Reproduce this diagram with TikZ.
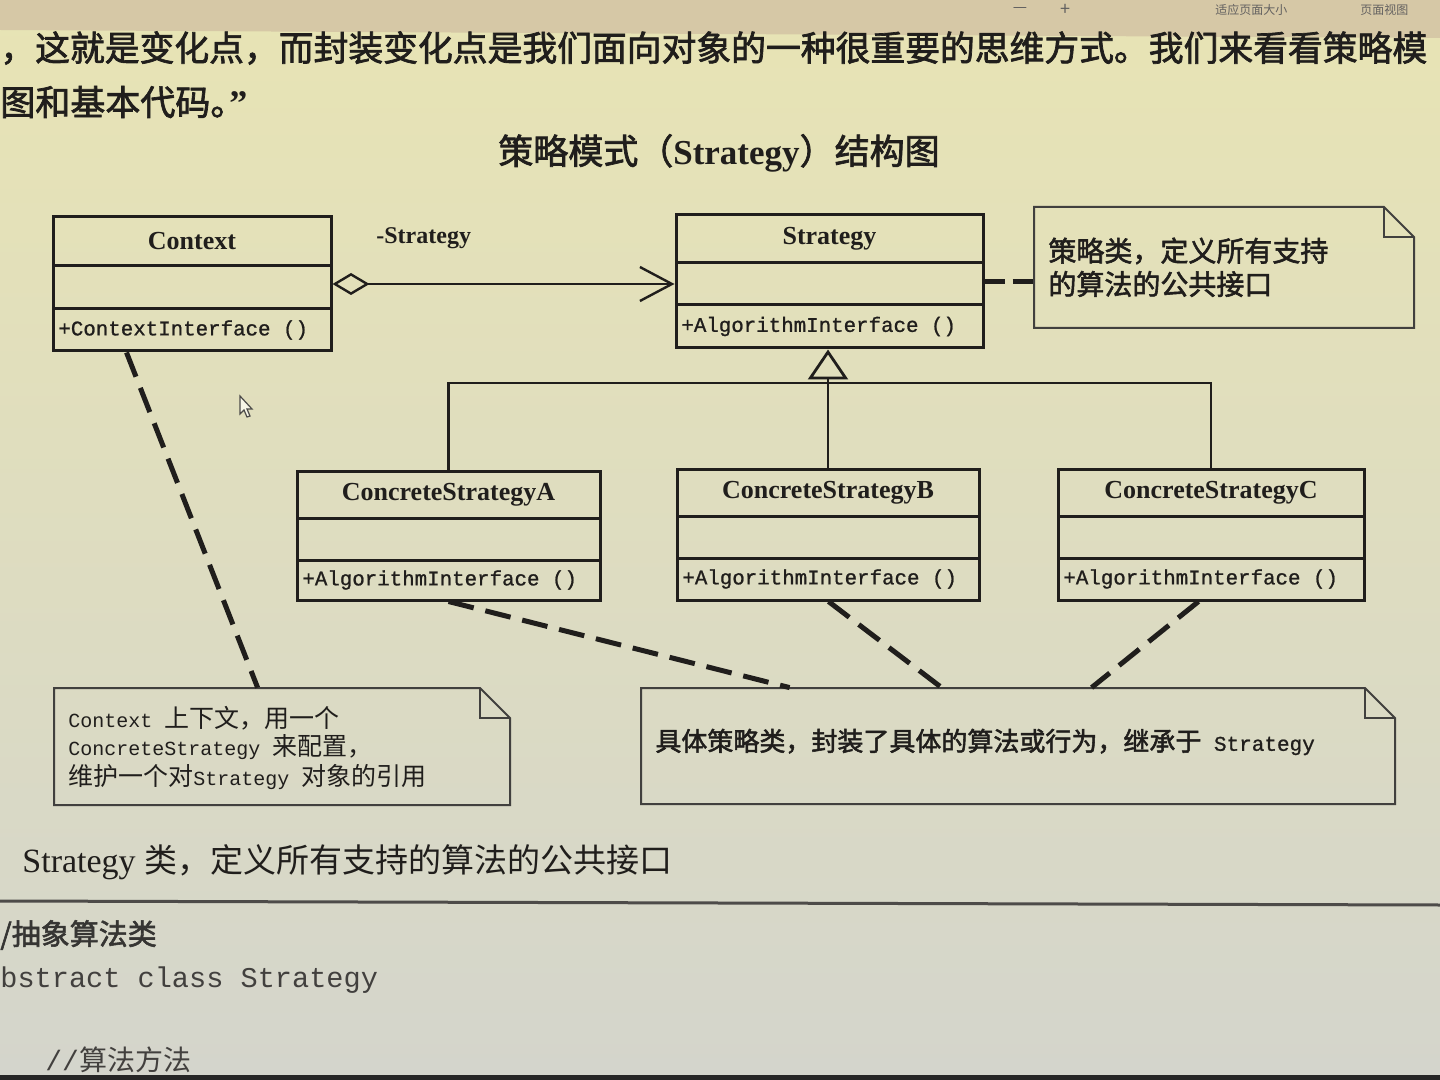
\documentclass[tikz,border=0pt]{standalone}
\usepackage{fontspec}
\setmainfont{Liberation Serif}
\setmonofont{Liberation Mono}
\newfontfamily\cjk{Noto Sans CJK SC}
\newfontfamily\cjkb[FakeBold=2]{Noto Sans CJK SC}
\newfontfamily\monob[FakeBold=1]{Liberation Mono}
\usetikzlibrary{arrows.meta,fit,calc}
\definecolor{ink}{RGB}{32,30,28}
\definecolor{papertop}{RGB}{232,228,180}
\definecolor{papermid}{RGB}{236,233,196}
\definecolor{paperbot}{RGB}{212,213,204}
\definecolor{bezel}{RGB}{214,200,166}
\tikzset{
 box/.style={draw=ink, line width=1.5pt, inner sep=0pt},
 rule/.style={draw=ink, line width=1.5pt},
 notebox/.style={draw=ink!85, line width=1pt, line join=miter},
 dashconn/.style={draw=ink, line width=2.5pt, dash pattern=on 13pt off 6pt},
 clsname/.style={font=\rmfamily\bfseries\fontsize{13pt}{15pt}\selectfont, text=ink, inner sep=0pt},
 meth/.style={font=\monob\fontsize{10.4pt}{12pt}\selectfont, text=ink, inner sep=0pt, anchor=west},
 notetext/.style={text=ink, inner sep=0pt, anchor=west},
 tbtext/.style={inner sep=0pt, text=ink!70, font=\cjk\fontsize{6pt}{7pt}\selectfont},
}
\newcommand{\umlcls}[9]{%
 \node[box, fit={(#2,#3)(#4,#5)}] (#1) {};
 \draw[rule] (#2,#6) -- (#4,#6);
 \draw[rule] (#2,#7) -- (#4,#7);
 \node[clsname] (#1-name) at ({(#2+#4)/2},{(#3+#6)/2}) {#8};
 \node[meth] (#1-meth) at ({#2+5},{(#7+#5)/2}) {#9};
}
\newcommand{\umlnote}[5]{%
 \draw[notebox] (#2,#3) -- ({#4-30},#3) -- (#4,{#3+30}) -- (#4,#5) -- (#2,#5) -- cycle;
 \draw[notebox] ({#4-30},#3) -- ({#4-30},{#3+30}) -- (#4,{#3+30});
 \node[fit={(#2,#3)(#4,#5)}, inner sep=0pt] (#1) {};
}
\begin{document}
\begin{tikzpicture}[x=0.5pt,y=-0.5pt]
\useasboundingbox (0,0) rectangle (1440,1080);
\clip (0,0) rectangle (1440,1080);
% background
\shade[top color=papertop, middle color=papermid, bottom color=paperbot] (0,0) rectangle (1440,1080);
\fill[bezel] (0,0) -- (1440,0) -- (1440,38) -- (0,30) -- cycle;
\fill[black!85] (0,1075) rectangle (1440,1080);
% toolbar
\node[tbtext, font=\cjk\fontsize{8pt}{9pt}\selectfont] (tb1) at (1020,10) {—};
\node[tbtext, font=\cjk\fontsize{9pt}{9pt}\selectfont] (tb2) at (1065,10) {+};
\node[tbtext, anchor=west] (tb3) at (1215,10) {适应页面大小};
\node[tbtext, anchor=west] (tb4) at (1360,10) {页面视图};
% page text
\node[inner sep=0pt, anchor=west, text=ink, font=\cjkb\fontsize{17.4pt}{20pt}\selectfont] (l1) at (0,48) {，这就是变化点，而封装变化点是我们面向对象的一种很重要的思维方式。我们来看看策略模};
\node[inner sep=0pt, anchor=west, text=ink, font=\cjkb\fontsize{17.5pt}{20pt}\selectfont] (l2) at (0,102) {图和基本代码。{\rmfamily\bfseries\fontsize{18pt}{20pt}\selectfont\kern-8pt ”}};
\node[inner sep=0pt, text=ink, font=\cjkb\fontsize{17.5pt}{20pt}\selectfont] (title) at (719,153) {策略模式（{\rmfamily\bfseries Strategy}）结构图};
% classes
\umlcls{ctx}{53}{217}{331}{351}{266}{309}{Context}{+ContextInterface ()}
\umlcls{st}{676}{215}{983}{348}{263}{305}{Strategy}{+AlgorithmInterface ()}
\umlcls{ca}{297}{471}{600}{600}{518}{560}{ConcreteStrategyA}{+AlgorithmInterface ()}
\umlcls{cb}{677}{469}{979}{600}{516}{558}{ConcreteStrategyB}{+AlgorithmInterface ()}
\umlcls{cc}{1058}{469}{1364}{600}{516}{558}{ConcreteStrategyC}{+AlgorithmInterface ()}
% association
\draw[draw=ink, line width=1.2pt, {Diamond[open,length=18.5pt,width=11pt,line width=1.2pt]}-{Straight Barb[length=16pt,width=17pt,line width=1.2pt]}] (ctx.east) -- (ctx.east -| st.west);
\node[inner sep=0pt, anchor=west, text=ink, font=\rmfamily\bfseries\fontsize{12pt}{14pt}\selectfont] (role) at (376,238) {-Strategy};
% generalization
\draw[rule, line width=1.4pt] (ca.north) -- (ca.north |- 0,383) -- (cc.north |- 0,383) -- (cc.north);
\draw[rule, line width=1.4pt, -{Triangle[open,length=15pt,width=20pt,line width=1.4pt]}] (cb.north) -- (cb.north |- st.south);
% notes
\umlnote{n1}{1034}{207}{1414}{328}
\umlnote{n2}{54}{688}{510}{805}
\umlnote{n3}{641}{688}{1395}{804}
\node[notetext, font=\cjkb\fontsize{14pt}{16pt}\selectfont] (n1a) at (1048,251) {策略类，定义所有支持};
\node[notetext, font=\cjkb\fontsize{14pt}{16pt}\selectfont] (n1b) at (1048,284) {的算法的公共接口};
\node[notetext, font=\cjk\fontsize{12.5pt}{14pt}\selectfont] (n2a) at (68,718) {{\ttfamily\fontsize{10pt}{12pt}\selectfont Context }上下文，用一个};
\node[notetext, font=\cjk\fontsize{12.5pt}{14pt}\selectfont] (n2b) at (68,747) {{\ttfamily\fontsize{10pt}{12pt}\selectfont ConcreteStrategy }来配置，};
\node[notetext, font=\cjk\fontsize{12.5pt}{14pt}\selectfont] (n2c) at (68,777) {维护一个对{\ttfamily\fontsize{10pt}{12pt}\selectfont Strategy }对象的引用};
\node[notetext, font=\cjkb\fontsize{13pt}{15pt}\selectfont] (n3a) at (655,742) {具体策略类，封装了具体的算法或行为，继承于{\monob\fontsize{10.5pt}{12pt}\selectfont{} Strategy}};
% note connectors
\draw[dashconn, dash pattern=on 10pt off 4pt] (st.east) -- (st.east -| n1.west);
\draw[dashconn] ($(ctx.south west)+(75,0)$) -- ($(n2.north west)+(204,0)$);
\draw[dashconn] ($(ca.south west)+(153,0)$) -- ($(n3.north west)+(149,0)$);
\draw[dashconn] ($(cb.south west)+(153,0)$) -- ($(n3.north west)+(301,0)$);
\draw[dashconn] ($(cc.south west)+(142,0)$) -- ($(n3.north west)+(451,0)$);
% mouse cursor
\draw[ink!80, line width=0.6pt, fill=white!60!papermid] (240,396) -- (240,414) -- (244,410) -- (247,417) -- (250,416) -- (247,409) -- (252,409) -- cycle;
% lower page text
\node[inner sep=0pt, anchor=west, text=ink, font=\cjk\fontsize{16.5pt}{18pt}\selectfont] (b1) at (22,862) {{\rmfamily\fontsize{17pt}{18pt}\selectfont Strategy }类，定义所有支持的算法的公共接口};
\draw[draw=ink!80, line width=1.5pt] (0,901) -- (1440,905);
\node[inner sep=0pt, anchor=west, text=ink!90, font=\cjkb\fontsize{14.5pt}{16pt}\selectfont] (b2) at (0,935) {/抽象算法类};
\node[inner sep=0pt, anchor=west, text=ink!85, font=\ttfamily\fontsize{14.3pt}{16pt}\selectfont] (b3) at (0,980) {bstract class Strategy};
\node[inner sep=0pt, anchor=west, text=ink!85, font=\cjk\fontsize{14pt}{16pt}\selectfont] (b4) at (45,1060) {{\ttfamily //}算法方法};
\end{tikzpicture}
\end{document}
